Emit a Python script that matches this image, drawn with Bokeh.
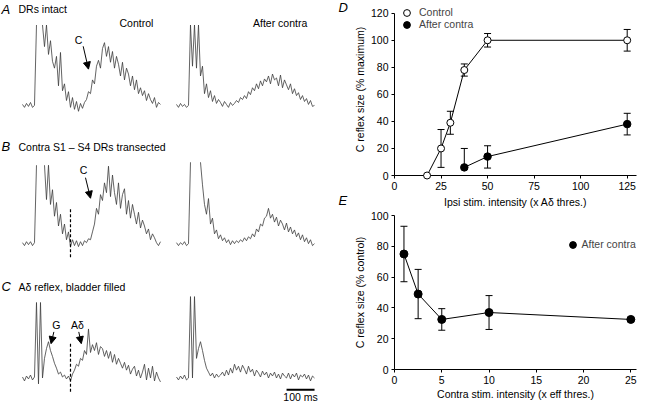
import numpy as np
from bokeh.plotting import figure
from bokeh.layouts import row, column
from bokeh.models import (Range1d, FixedTicker, Label, Arrow, NormalHead, Whisker,
                          ColumnDataSource, Legend, LegendItem)
from bokeh.embed import file_html
from bokeh.resources import INLINE

nan = float("nan")
FONT = "Liberation Sans"

# ---------------- Panel D data ----------------
ipsi_intensity_control = [17.5, 25, 30, 37.5, 50, 125]
control_size = [0, 20, 39, 78, 100, 100]
control_sem = [0, 14, 8.5, 4.5, 5, 8]
ipsi_intensity_contra = [37.5, 50, 125]
contra_size = [6, 14, 38]
contra_sem_up = [14, 8, 8]
contra_sem_down = [0, 8.5, 8]
d_xticks = [0, 25, 50, 75, 100, 125]
d_yticks = [0, 20, 40, 60, 80, 100, 120]

# ---------------- Panel E data ----------------
contra_intensity = [1, 2.5, 5, 10, 25]
reflex_pct_control = [75, 49, 32.5, 37, 32.5]
reflex_sem = [18, 16, 7, 11, 0]
e_xticks = [0, 5, 10, 15, 20, 25]
e_yticks = [0, 20, 40, 60, 80, 100]

# ---------------- Traces (sampled every DT ms, arbitrary units) ----------------
DT = 100 / 14
trace_A_control = [1, -2, 2, -1, 3, -2, 0, 82, nan, nan, 82, 60, 82, 52, 66, 45, 38, 50, 20, 54,
                   15, 22, 5, 14, -2, 8, -4, 4, -6, 2, -3, 3, 6, 14, 12, 26, 22, 40, 46, 38,
                   58, 64, 50, 60, 44, 55, 38, 50, 42, 30, 44, 26, 38, 32, 20, 30, 16, 26, 12, 18,
                   10, 15, 5, 12, 6, 2, 8, -2, 3, 1]
trace_A_contra = [1, -2, 2, -1, 1, -2, 0, 82, 40, 82, 38, 82, 30, 40, 12, 22, 8, 15, 4, 10,
                  2, 6, 3, -1, 4, 1, -2, 3, 0, 2, 5, 3, 8, 6, 10, 7, 14, 11, 18, 15,
                  22, 17, 25, 20, 27, 24, 30, 22, 32, 26, 28, 20, 31, 18, 26, 21, 16, 22, 12, 17,
                  10, 13, 6, 10, 4, 7, 1, 5, -1, 0]
trace_B_control = [1, -2, 2, -1, 2, -2, 1, 80, nan, nan, nan, 80, 45, 80, 40, 55, 28, 42, 18, 30,
                   10, 20, 4, 12, -3, 4, -2, 3, -3, 2, -2, 3, 1, 5, 4, 12, 20, 36, 30, 50,
                   44, 62, 52, 79, 48, 70, 52, 40, 62, 36, 50, 56, 30, 44, 26, 40, 30, 20, 32, 16,
                   24, 18, 10, 15, 4, 10, 6, 1, -2, 2]
trace_B_contra = [1, -2, 1, -1, 2, -2, 0, 83, nan, nan, nan, nan, 83, 60, 40, 30, 46, 20, 26, 10,
                  14, 5, 9, 3, 6, 1, 4, -1, 3, 0, 3, 1, 4, 2, 6, 3, 7, 5, 10, 7,
                  15, 12, 20, 18, 26, 28, 36, 26, 30, 22, 27, 18, 24, 20, 14, 21, 12, 17, 10, 14,
                  7, 11, 4, 9, 2, 6, 0, 4, -2, 0]
trace_C_control = [1, -3, 2, -1, 3, -2, 1, 77, -6, 77, 0, 20, 30, 37, 28, 22, 15, 10, 4, 6,
                   1, 3, -1, 2, -3, 4, 8, 14, 12, 20, 18, 28, 24, 50, 26, 34, 28, 36, 24, 32,
                   30, 22, 28, 20, 27, 16, 24, 14, 20, 15, 10, 16, 8, 13, 4, 9, 12, 2, 8, 0,
                   6, 14, -2, 10, 0, 12, -3, 6, 0, -4]
trace_C_contra = [1, -2, 2, -1, 3, -2, 0, 83, 0, 83, 20, 30, 37, 28, 18, 10, 6, 2, 5, 0,
                  4, 1, 3, 6, 2, 8, 3, 10, 5, 14, 8, 12, 6, 13, 9, 4, 12, 6, 9, 2,
                  8, 5, 1, 7, 3, 6, 0, 5, 2, 6, 0, 4, -1, 5, 2, 0, 5, -1, 4, 1,
                  5, -2, 3, 1, 4, -1, 3, -3, 2, 0]

row_titles = ["DRs intact", "Contra S1 \u2013 S4 DRs transected", "A\u03b4 reflex, bladder filled"]
row_letters = ["A", "B", "C"]

# ---------------- Left panel (traces) ----------------
ROW_BASE = [-107, -248, -385]
CONTRA_T0 = 550
TRACE_COLOR = "#3c3c3c"

pL = figure(width=350, height=402, x_range=Range1d(-78.57, 1171.43), y_range=Range1d(-410, 0),
            x_axis_type=None, y_axis_type=None, toolbar_location=None, output_backend="svg",
            min_border=0, outline_line_color=None)

traces = [(trace_A_control, trace_A_contra), (trace_B_control, trace_B_contra),
          (trace_C_control, trace_C_contra)]
for base, (ctl, con) in zip(ROW_BASE, traces):
    t1 = np.arange(len(ctl)) * DT
    pL.line(t1, base + np.array(ctl, dtype=float), line_color=TRACE_COLOR, line_width=0.8)
    t2 = CONTRA_T0 + np.arange(len(con)) * DT
    pL.line(t2, base + np.array(con, dtype=float), line_color=TRACE_COLOR, line_width=0.8)

# stimulus time markers (dashed)
STIM_T = 171.4
pL.segment(x0=[STIM_T, STIM_T], y0=[ROW_BASE[1] + 35, ROW_BASE[2] + 35],
           x1=[STIM_T, STIM_T], y1=[ROW_BASE[1] - 15, ROW_BASE[2] - 15],
           line_color="black", line_width=1.2, line_dash="3 2")

def lab(p, x, y, text, size="10.5px", style="normal", align="left", **kw):
    p.add_layout(Label(x=x, y=y, text=text, text_font=FONT, text_font_size=size,
                       text_font_style=style, text_align=align, text_baseline="middle",
                       text_color="black", **kw))

title_y = [-9, -149, -292]
for letter_txt, title, ty in zip(row_letters, row_titles, title_y):
    lab(pL, -75, ty, letter_txt, size="13px", style="italic")
    lab(pL, -14.3, ty, title)

# panel letters of the right-hand graphs (drawn here, left of their axes)
lab(pL, 1128.6, -7.5, "D", size="13px", style="italic")
lab(pL, 1128.6, -204, "E", size="13px", style="italic")

lab(pL, 407, -23, "Control", align="center")
lab(pL, 920, -23, "After contra", align="center")

def arrow(p, xs, ys, xe, ye):
    p.add_layout(Arrow(end=NormalHead(size=7, fill_color="black", line_color="black", line_width=1),
                       x_start=xs, y_start=ys, x_end=xe, y_end=ye,
                       line_color="black", line_width=1))

lab(pL, 200, -40, "C", align="center")
arrow(pL, 216.7, -46.7, 235.7, -70)
lab(pL, 218, -173.3, "C", align="center")
arrow(pL, 225, -180.7, 242.9, -201.7)
lab(pL, 121, -331, "G", align="center")
arrow(pL, 112, -338, 102, -350)
lab(pL, 196, -331, "A\u03b4", align="center")
arrow(pL, 201, -338, 210, -350)

# scale bar 100 ms
pL.line([943, 1043], [-397, -397], line_color="black", line_width=2)
lab(pL, 993, -404, "100 ms", align="center")

# ---------------- Axis styling helper ----------------
def style_axes(p, xticks, yticks, xlabel, ylabel, xtitle_standoff=3):
    p.xaxis.ticker = FixedTicker(ticks=xticks)
    p.yaxis.ticker = FixedTicker(ticks=yticks)
    p.xaxis.axis_label = xlabel
    p.yaxis.axis_label = ylabel
    for ax in p.axis:
        ax.axis_line_color = "black"
        ax.axis_line_width = 1
        ax.major_tick_line_color = "black"
        ax.major_tick_in = 0
        ax.major_tick_out = 3
        ax.minor_tick_line_color = None
        ax.major_label_text_font = FONT
        ax.major_label_text_font_size = "10.5px"
        ax.major_label_text_color = "black"
        ax.axis_label_text_font = FONT
        ax.axis_label_text_font_size = "10.5px"
        ax.axis_label_text_font_style = "normal"
        ax.axis_label_text_color = "black"
        ax.major_label_standoff = 3
        ax.axis_label_standoff = 2
    p.xaxis.axis_label_standoff = xtitle_standoff
    p.grid.visible = False

def whiskers(p, x, lower, upper):
    src = ColumnDataSource(dict(x=x, lower=lower, upper=upper))
    w = Whisker(base="x", lower="lower", upper="upper", source=src,
                line_color="black", line_width=1)
    w.upper_head.size = 7
    w.lower_head.size = 7
    w.upper_head.line_color = "black"
    w.lower_head.line_color = "black"
    p.add_layout(w)

def one_legend(p, label, renderer, loc, standoff):
    leg = Legend(items=[LegendItem(label=label, renderers=[renderer])],
                 location=loc, orientation="vertical", background_fill_alpha=0,
                 border_line_color=None, padding=0, margin=0, spacing=0,
                 glyph_width=17, glyph_height=17, label_height=12, label_standoff=standoff,
                 label_text_font=FONT, label_text_font_size="10.5px")
    p.add_layout(leg)

# ---------------- Panel D ----------------
pD = figure(width=288, height=210, x_range=Range1d(0, 130), y_range=Range1d(0, 127.2),
            min_border_left=42, min_border_right=2, min_border_top=3, min_border_bottom=35,
            toolbar_location=None, output_backend="svg", outline_line_color=None)
style_axes(pD, d_xticks, d_yticks, "Ipsi stim. intensity (x A\u03b4 thres.)",
           "C reflex size (% maximum)")
pD.yaxis.bounds = (0, 120)

whiskers(pD, ipsi_intensity_control,
         [y - e for y, e in zip(control_size, control_sem)],
         [y + e for y, e in zip(control_size, control_sem)])
whiskers(pD, ipsi_intensity_contra,
         [y - e for y, e in zip(contra_size, contra_sem_down)],
         [y + e for y, e in zip(contra_size, contra_sem_up)])
pD.line(ipsi_intensity_control, control_size, line_color="black", line_width=1)
pD.line(ipsi_intensity_contra, contra_size, line_color="black", line_width=1)
rc = pD.scatter(ipsi_intensity_control, control_size, size=7, marker="circle",
                fill_color="white", line_color="black", line_width=1, level="overlay")
ra = pD.scatter(ipsi_intensity_contra, contra_size, size=7.5, marker="circle",
                fill_color="black", line_color="black", line_width=1, level="overlay")
one_legend(pD, "Control", rc, (4, 154.5), 4)
one_legend(pD, "After contra", ra, (4, 142.5), 4)

# ---------------- Panel E ----------------
pE = figure(width=288, height=192, x_range=Range1d(0, 25.6), y_range=Range1d(0, 100),
            min_border_left=42, min_border_right=2, min_border_top=5, min_border_bottom=31,
            toolbar_location=None, output_backend="svg", outline_line_color=None)
style_axes(pE, e_xticks, e_yticks, "Contra stim. intensity (x eff thres.)",
           "C reflex size (% control)", xtitle_standoff=1)
whiskers(pE, contra_intensity,
         [y - e for y, e in zip(reflex_pct_control, reflex_sem)],
         [y + e for y, e in zip(reflex_pct_control, reflex_sem)])
pE.line(contra_intensity, reflex_pct_control, line_color="black", line_width=1)
re_ = pE.scatter(contra_intensity, reflex_pct_control, size=8, marker="circle",
                 fill_color="black", line_color="black", line_width=1)
one_legend(pE, "After contra", re_, (169.5, 116.5), 1)

layout = row(pL, column(pD, pE))
html = file_html(layout, INLINE, title="C reflex")
open("out.html", "w").write(html)
